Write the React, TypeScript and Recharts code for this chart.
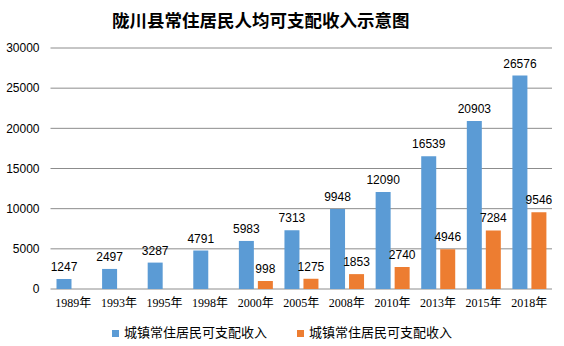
import React from "react";
import { BarChart, Bar, XAxis, YAxis, CartesianGrid, LabelList } from "recharts";

const years = ["1989年", "1993年", "1995年", "1998年", "2000年", "2005年", "2008年", "2010年", "2013年", "2015年", "2018年"];
const urbanIncome = [1247, 2497, 3287, 4791, 5983, 7313, 9948, 12090, 16539, 20903, 26576];
const ruralIncome: (number | null)[] = [null, null, null, null, 998, 1275, 1853, 2740, 4946, 7284, 9546];
const yTicks = [0, 5000, 10000, 15000, 20000, 25000, 30000];
const seriesNames = ["城镇常住居民可支配收入", "城镇常住居民可支配收入"];
const titleText = "陇川县常住居民人均可支配收入示意图";

const colors = ["#5B9BD5", "#ED7D31"];

const data = years.map((y, i) => ({ year: y, urban: urbanIncome[i], rural: ruralIncome[i] }));

const labelStyle = { fontFamily: "'Liberation Sans', Arial, sans-serif", fontSize: 12, fill: "#000" };

export default function App() {
  return (
    <div style={{ position: "absolute", left: 0, top: 0, width: 564, height: 346, background: "#fff" }}>
      <div
        style={{
          position: "absolute",
          left: 112,
          top: 8,
          whiteSpace: "nowrap",
          fontFamily: "'Noto Sans CJK SC', sans-serif",
          fontWeight: 700,
          fontSize: 17.5,
          lineHeight: "24px",
          color: "#000",
        }}
      >
        {titleText}
      </div>
      <BarChart
        width={564}
        height={346}
        data={data}
        margin={{ top: 48, right: 12, bottom: 27, left: 0 }}
        barGap={4}
        barSize={15}
      >
        <CartesianGrid vertical={false} stroke="#8c8c8c" strokeWidth={1} />
        <XAxis
          dataKey="year"
          height={30}
          axisLine={false}
          tickLine={false}
          tickSize={0}
          tickMargin={9}
          interval={0}
          tick={{ fontFamily: "'Liberation Serif', 'Noto Sans CJK SC', serif", fontSize: 12, fill: "#000" }}
        />
        <YAxis
          width={50.5}
          domain={[0, 30000]}
          ticks={yTicks}
          axisLine={false}
          tickLine={false}
          tickSize={0}
          tickMargin={11}
          tick={{ fontFamily: "'Liberation Sans', Arial, sans-serif", fontSize: 12, fill: "#000" }}
        />
        <Bar dataKey="urban" name={seriesNames[0]} fill={colors[0]} isAnimationActive={false}>
          <LabelList dataKey="urban" position="top" offset={8} style={labelStyle} />
        </Bar>
        <Bar dataKey="rural" name={seriesNames[1]} fill={colors[1]} isAnimationActive={false}>
          <LabelList dataKey="rural" position="top" offset={8} style={labelStyle} />
        </Bar>
      </BarChart>
      <div
        style={{
          position: "absolute",
          left: 0,
          top: 322,
          width: 564,
          display: "flex",
          justifyContent: "center",
          alignItems: "center",
          fontFamily: "'Noto Sans CJK SC', sans-serif",
          fontSize: 13,
          color: "#000",
        }}
      >
        {seriesNames.map((n, i) => (
          <div key={i} style={{ display: "flex", alignItems: "center", marginLeft: i === 0 ? 0 : 30 }}>
            <span style={{ display: "inline-block", width: 7, height: 7, background: colors[i], marginRight: 5, marginTop: 3 }} />
            <span style={{ lineHeight: "20px" }}>{n}</span>
          </div>
        ))}
      </div>
    </div>
  );
}
